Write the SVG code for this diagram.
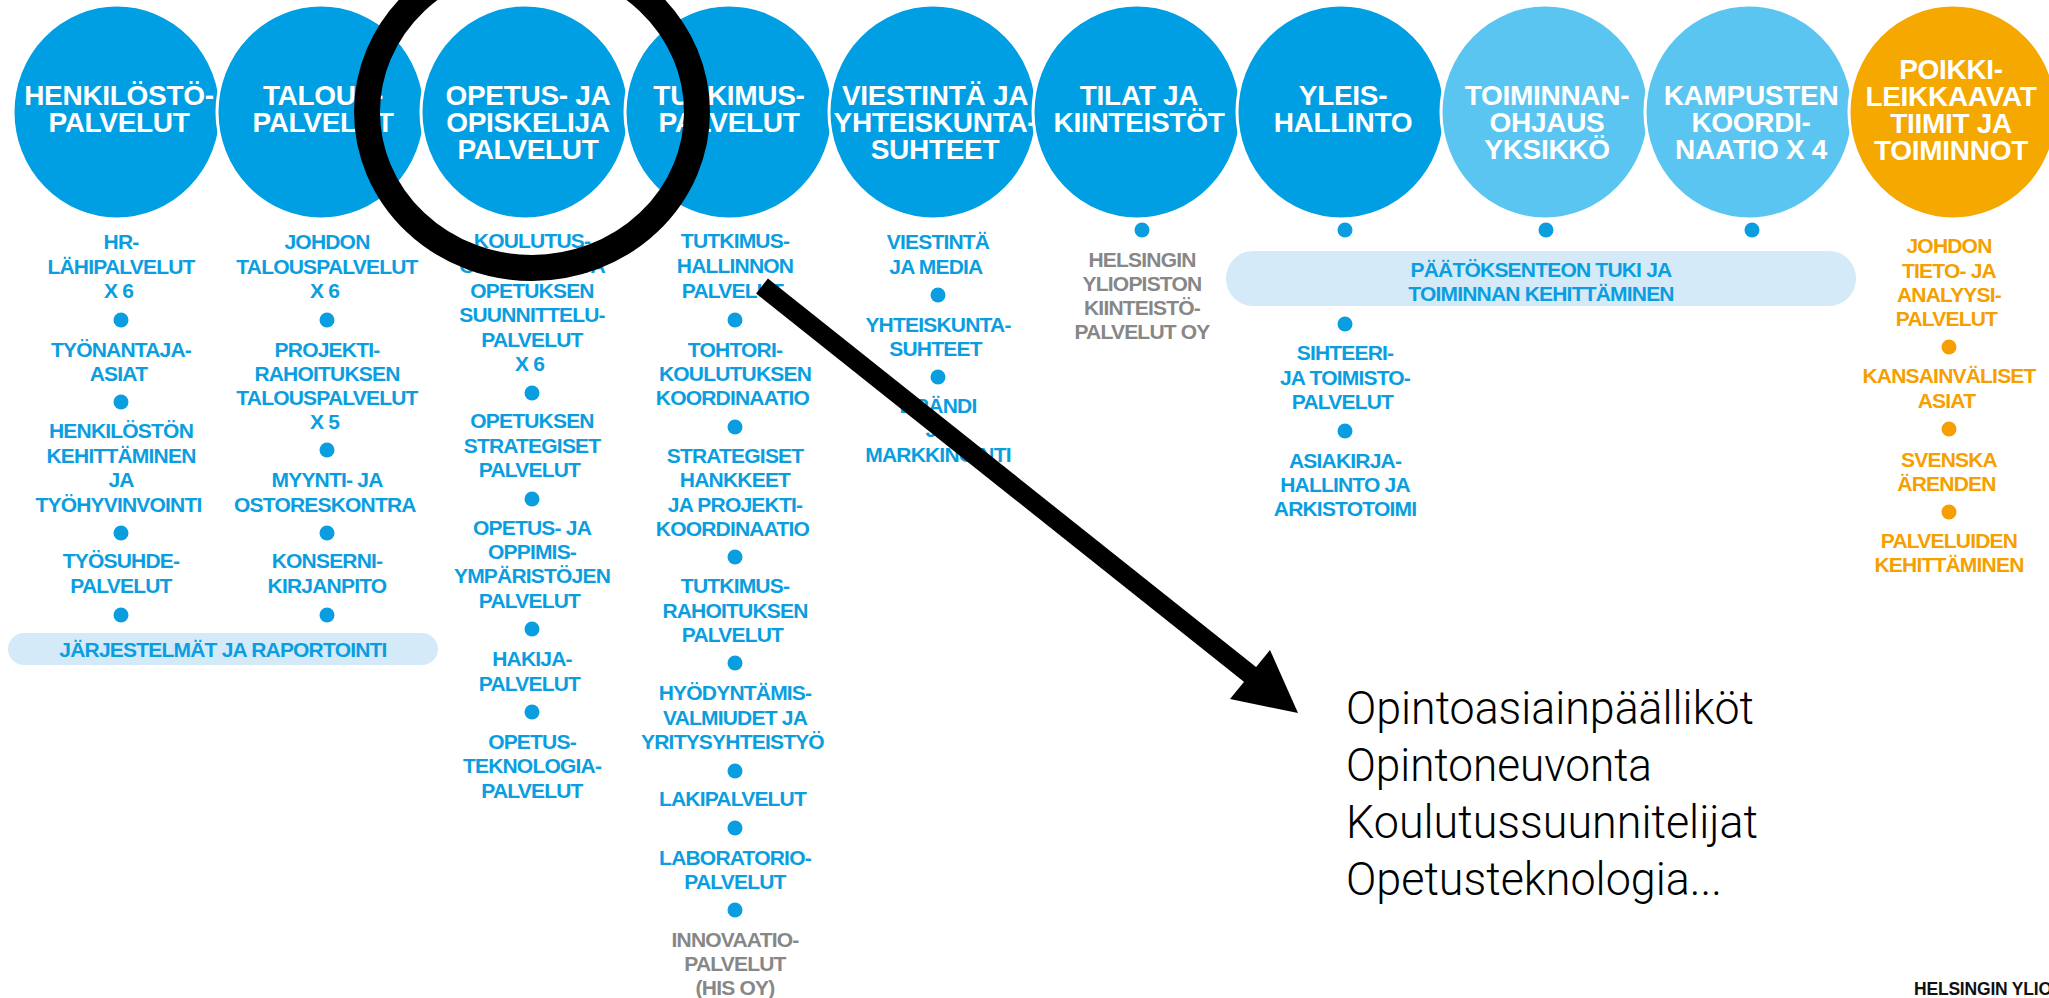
<svg xmlns="http://www.w3.org/2000/svg" width="2049" height="998" viewBox="0 0 2049 998">
<style>
.cd{fill:#009FE3;stroke:#fff;stroke-width:3}
.cl{fill:#5BC5F1;stroke:#fff;stroke-width:3}
.co{fill:#F5A800;stroke:#fff;stroke-width:3}
text{font-family:"Liberation Sans",Arial,sans-serif;font-weight:700;text-anchor:middle}
.h{font-size:28px;fill:#fff;letter-spacing:-0.3px}
.t{font-size:21px;fill:#0A9EE0;letter-spacing:-0.8px}
.g{fill:#878787}
.o{fill:#F5A000}
.dot{fill:#0A9EE0}
.odot{fill:#F5A000}
.band{fill:#D4EAF8}
.note{font-family:Roboto,"Liberation Sans",Arial,sans-serif;font-weight:300;font-size:47px;fill:#000;text-anchor:start}
.foot{font-size:17.5px;fill:#111;text-anchor:start;letter-spacing:-0.2px}
</style>

<g id="henkilostopalvelut">
<ellipse class="cd" cx="117" cy="112" rx="104" ry="107"/>
<text class="h"><tspan x="119" y="105">HENKILÖSTÖ-</tspan><tspan x="119" y="132">PALVELUT</tspan></text>
<text class="t">
<tspan x="121" y="249">HR-</tspan><tspan x="121" y="273.5">LÄHIPALVELUT</tspan><tspan x="121" y="298">X 6</tspan>
<tspan x="121" y="357">TYÖNANTAJA-</tspan><tspan x="121" y="381">ASIAT</tspan>
<tspan x="121" y="438">HENKILÖSTÖN</tspan><tspan x="121" y="462.5">KEHITTÄMINEN</tspan><tspan x="121" y="487">JA</tspan><tspan x="121" y="511.5">TYÖHYVINVOINTI</tspan>
<tspan x="121" y="568">TYÖSUHDE-</tspan><tspan x="121" y="592.5">PALVELUT</tspan>
</text>
<circle class="dot" cx="121" cy="320" r="7.5"/>
<circle class="dot" cx="121" cy="402" r="7.5"/>
<circle class="dot" cx="121" cy="533" r="7.5"/>
<circle class="dot" cx="121" cy="615" r="7.5"/>
</g>

<g id="talouspalvelut">
<ellipse class="cd" cx="321" cy="112" rx="104" ry="107"/>
<text class="h"><tspan x="323" y="105">TALOUS-</tspan><tspan x="323" y="132">PALVELUT</tspan></text>
<text class="t">
<tspan x="327" y="249">JOHDON</tspan><tspan x="327" y="273.5">TALOUSPALVELUT</tspan><tspan x="327" y="298">X 6</tspan>
<tspan x="327" y="357">PROJEKTI-</tspan><tspan x="327" y="381">RAHOITUKSEN</tspan><tspan x="327" y="405">TALOUSPALVELUT</tspan><tspan x="327" y="429">X 5</tspan>
<tspan x="327" y="487">MYYNTI- JA</tspan><tspan x="327" y="511.5">OSTORESKONTRA</tspan>
<tspan x="327" y="568">KONSERNI-</tspan><tspan x="327" y="592.5">KIRJANPITO</tspan>
</text>
<circle class="dot" cx="327" cy="320" r="7.5"/>
<circle class="dot" cx="327" cy="450" r="7.5"/>
<circle class="dot" cx="327" cy="533" r="7.5"/>
<circle class="dot" cx="327" cy="615" r="7.5"/>
</g>

<g id="jarjestelmat">
<rect class="band" x="8" y="633" width="430" height="32" rx="16"/>
<text class="t" x="223" y="656.5">JÄRJESTELMÄT JA RAPORTOINTI</text>
</g>

<g id="opetus-ja-opiskelijapalvelut">
<ellipse class="cd" cx="525" cy="112" rx="104" ry="107"/>
<text class="h"><tspan x="528" y="105">OPETUS- JA</tspan><tspan x="528" y="132">OPISKELIJA</tspan><tspan x="528" y="159">PALVELUT</tspan></text>
<text class="t">
<tspan x="532" y="248">KOULUTUS-</tspan><tspan x="532" y="273">OHJELMIEN JA</tspan><tspan x="532" y="298">OPETUKSEN</tspan><tspan x="532" y="322">SUUNNITTELU-</tspan><tspan x="532" y="347">PALVELUT</tspan><tspan x="532" y="371">X 6</tspan>
<tspan x="532" y="428">OPETUKSEN</tspan><tspan x="532" y="452.5">STRATEGISET</tspan><tspan x="532" y="477">PALVELUT</tspan>
<tspan x="532" y="535">OPETUS- JA</tspan><tspan x="532" y="559">OPPIMIS-</tspan><tspan x="532" y="583">YMPÄRISTÖJEN</tspan><tspan x="532" y="607.5">PALVELUT</tspan>
<tspan x="532" y="666">HAKIJA-</tspan><tspan x="532" y="690.5">PALVELUT</tspan>
<tspan x="532" y="749">OPETUS-</tspan><tspan x="532" y="773">TEKNOLOGIA-</tspan><tspan x="532" y="797.5">PALVELUT</tspan>
</text>
<circle class="dot" cx="532" cy="393" r="7.5"/>
<circle class="dot" cx="532" cy="499" r="7.5"/>
<circle class="dot" cx="532" cy="629" r="7.5"/>
<circle class="dot" cx="532" cy="712" r="7.5"/>
</g>

<g id="tutkimuspalvelut">
<ellipse class="cd" cx="729" cy="112" rx="104" ry="107"/>
<text class="h"><tspan x="729" y="105">TUTKIMUS-</tspan><tspan x="729" y="132">PALVELUT</tspan></text>
<text class="t">
<tspan x="735" y="248">TUTKIMUS-</tspan><tspan x="735" y="273">HALLINNON</tspan><tspan x="735" y="298">PALVELUT</tspan>
<tspan x="735" y="357">TOHTORI-</tspan><tspan x="735" y="381">KOULUTUKSEN</tspan><tspan x="735" y="405">KOORDINAATIO</tspan>
<tspan x="735" y="463">STRATEGISET</tspan><tspan x="735" y="487">HANKKEET</tspan><tspan x="735" y="511.5">JA PROJEKTI-</tspan><tspan x="735" y="536">KOORDINAATIO</tspan>
<tspan x="735" y="593">TUTKIMUS-</tspan><tspan x="735" y="617.5">RAHOITUKSEN</tspan><tspan x="735" y="642">PALVELUT</tspan>
<tspan x="735" y="700">HYÖDYNTÄMIS-</tspan><tspan x="735" y="724.5">VALMIUDET JA</tspan><tspan x="735" y="749">YRITYSYHTEISTYÖ</tspan>
<tspan x="735" y="806">LAKIPALVELUT</tspan>
<tspan x="735" y="865">LABORATORIO-</tspan><tspan x="735" y="889">PALVELUT</tspan>
</text>
<text class="t g"><tspan x="735" y="947">INNOVAATIO-</tspan><tspan x="735" y="971">PALVELUT</tspan><tspan x="735" y="995">(HIS OY)</tspan></text>
<circle class="dot" cx="735" cy="320" r="7.5"/>
<circle class="dot" cx="735" cy="427" r="7.5"/>
<circle class="dot" cx="735" cy="557" r="7.5"/>
<circle class="dot" cx="735" cy="663" r="7.5"/>
<circle class="dot" cx="735" cy="771" r="7.5"/>
<circle class="dot" cx="735" cy="828" r="7.5"/>
<circle class="dot" cx="735" cy="910" r="7.5"/>
</g>

<g id="viestinta-ja-yhteiskuntasuhteet">
<ellipse class="cd" cx="933" cy="112" rx="104" ry="107"/>
<text class="h"><tspan x="935" y="105">VIESTINTÄ JA</tspan><tspan x="935" y="132">YHTEISKUNTA-</tspan><tspan x="935" y="159">SUHTEET</tspan></text>
<text class="t">
<tspan x="938" y="249">VIESTINTÄ</tspan><tspan x="938" y="273.5">JA MEDIA</tspan>
<tspan x="938" y="332">YHTEISKUNTA-</tspan><tspan x="938" y="356">SUHTEET</tspan>
<tspan x="938" y="413">BRÄNDI</tspan><tspan x="938" y="437">JA</tspan><tspan x="938" y="462">MARKKINOINTI</tspan>
</text>
<circle class="dot" cx="938" cy="295" r="7.5"/>
<circle class="dot" cx="938" cy="377" r="7.5"/>
</g>

<g id="tilat-ja-kiinteistot">
<ellipse class="cd" cx="1137" cy="112" rx="104" ry="107"/>
<text class="h"><tspan x="1139" y="105">TILAT JA</tspan><tspan x="1139" y="132">KIINTEISTÖT</tspan></text>
<circle class="dot" cx="1142" cy="230" r="7.5"/>
<text class="t g"><tspan x="1142" y="267">HELSINGIN</tspan><tspan x="1142" y="291">YLIOPISTON</tspan><tspan x="1142" y="315">KIINTEISTÖ-</tspan><tspan x="1142" y="339">PALVELUT OY</tspan></text>
</g>

<g id="yleishallinto">
<ellipse class="cd" cx="1341" cy="112" rx="104" ry="107"/>
<text class="h"><tspan x="1343" y="105">YLEIS-</tspan><tspan x="1343" y="132">HALLINTO</tspan></text>
<circle class="dot" cx="1345" cy="230" r="7.5"/>
<circle class="dot" cx="1345" cy="324" r="7.5"/>
<circle class="dot" cx="1345" cy="431" r="7.5"/>
<text class="t">
<tspan x="1345" y="360">SIHTEERI-</tspan><tspan x="1345" y="384.5">JA TOIMISTO-</tspan><tspan x="1345" y="409">PALVELUT</tspan>
<tspan x="1345" y="468">ASIAKIRJA-</tspan><tspan x="1345" y="492">HALLINTO JA</tspan><tspan x="1345" y="516">ARKISTOTOIMI</tspan>
</text>
</g>

<g id="toiminnanohjausyksikko">
<ellipse class="cl" cx="1545" cy="112" rx="104" ry="107"/>
<text class="h"><tspan x="1547" y="105">TOIMINNAN-</tspan><tspan x="1547" y="132">OHJAUS</tspan><tspan x="1547" y="159">YKSIKKÖ</tspan></text>
<circle class="dot" cx="1546" cy="230" r="7.5"/>
</g>

<g id="kampusten-koordinaatio">
<ellipse class="cl" cx="1749" cy="112" rx="104" ry="107"/>
<text class="h"><tspan x="1751" y="105">KAMPUSTEN</tspan><tspan x="1751" y="132">KOORDI-</tspan><tspan x="1751" y="159">NAATIO X 4</tspan></text>
<circle class="dot" cx="1752" cy="230" r="7.5"/>
</g>

<g id="paatoksenteon-tuki">
<rect class="band" x="1226" y="251" width="630" height="55" rx="27"/>
<text class="t"><tspan x="1541" y="277">PÄÄTÖKSENTEON TUKI JA</tspan><tspan x="1541" y="301">TOIMINNAN KEHITTÄMINEN</tspan></text>
</g>

<g id="poikkileikkaavat-tiimit">
<ellipse class="co" cx="1953" cy="112" rx="104" ry="107"/>
<text class="h"><tspan x="1951" y="79">POIKKI-</tspan><tspan x="1951" y="106">LEIKKAAVAT</tspan><tspan x="1951" y="133">TIIMIT JA</tspan><tspan x="1951" y="160">TOIMINNOT</tspan></text>
<text class="t o">
<tspan x="1949" y="253">JOHDON</tspan><tspan x="1949" y="277.5">TIETO- JA</tspan><tspan x="1949" y="302">ANALYYSI-</tspan><tspan x="1949" y="326">PALVELUT</tspan>
<tspan x="1949" y="383">KANSAINVÄLISET</tspan><tspan x="1949" y="407.5">ASIAT</tspan>
<tspan x="1949" y="467">SVENSKA</tspan><tspan x="1949" y="491">ÄRENDEN</tspan>
<tspan x="1949" y="548">PALVELUIDEN</tspan><tspan x="1949" y="572">KEHITTÄMINEN</tspan>
</text>
<circle class="odot" cx="1949" cy="347" r="7.5"/>
<circle class="odot" cx="1949" cy="429" r="7.5"/>
<circle class="odot" cx="1949" cy="512" r="7.5"/>
</g>

<g id="highlight">
<ellipse cx="532" cy="112" rx="165" ry="156" fill="none" stroke="#000" stroke-width="26"/>
</g>

<g id="connectors">
<line x1="762" y1="286" x2="1252" y2="676" stroke="#000" stroke-width="19"/>
<polygon points="1298,713 1230,699 1270,650" fill="#000"/>
</g>

<g id="note">
<text class="note" x="1346" y="724" textLength="408" lengthAdjust="spacingAndGlyphs">Opintoasiainpäälliköt</text>
<text class="note" x="1346" y="781" textLength="306" lengthAdjust="spacingAndGlyphs">Opintoneuvonta</text>
<text class="note" x="1346" y="838" textLength="412" lengthAdjust="spacingAndGlyphs">Koulutussuunnitelijat</text>
<text class="note" x="1346" y="895" textLength="376" lengthAdjust="spacingAndGlyphs">Opetusteknologia...</text>
</g>

<g id="footer">
<text class="foot" x="1914" y="995">HELSINGIN YLIO</text>
</g>
</svg>
